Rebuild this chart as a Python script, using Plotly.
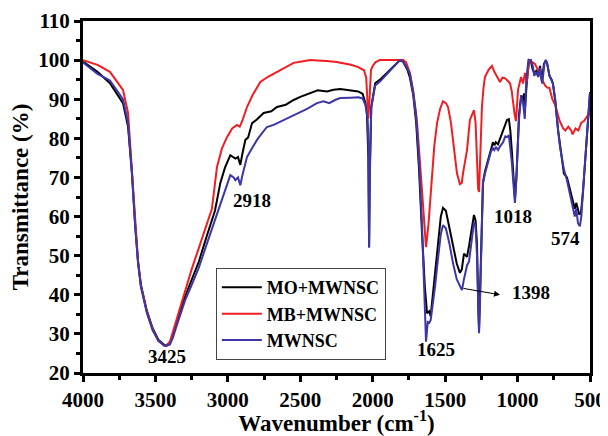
import plotly.graph_objects as go

# ---------------- data ----------------
wn_black = [4000, 3900, 3814, 3724, 3689, 3662, 3640, 3620, 3600, 3560, 3520, 3480, 3440, 3425,
            3400, 3380, 3350, 3296, 3250, 3200, 3150, 3089, 3052, 3020, 2983, 2960, 2948, 2930, 2914,
            2900, 2879, 2860, 2833, 2800, 2753, 2700, 2661, 2600, 2546, 2500, 2431, 2380, 2316, 2270,
            2224, 2150, 2100, 2070, 2050, 2040, 2030, 2025, 2020, 2010, 2000, 1983, 1950, 1900, 1850,
            1812, 1790, 1760, 1743, 1720, 1700, 1680, 1660, 1640, 1625, 1610, 1600, 1590, 1570, 1550,
            1530, 1515, 1495, 1470, 1446, 1420, 1398, 1385, 1370, 1349, 1335, 1320, 1301, 1290, 1280,
            1272, 1266, 1258, 1246, 1239, 1225, 1204, 1185, 1170, 1160, 1150, 1135, 1120, 1100, 1085,
            1073, 1060, 1050, 1040, 1030, 1018, 1008, 998, 990, 975, 962, 955, 948, 935, 920, 910,
            895, 880, 868, 858, 845, 832, 818, 805, 795, 780, 765, 756, 740, 720, 707, 690, 680, 659,
            640, 617, 605, 595, 585, 574, 562, 548, 530, 514, 500]
tr_black = [99.6, 97.0, 94.1, 89.0, 83.0, 71.0, 58.0, 48.5, 42.5, 36.0, 31.5, 28.5, 27.2, 27.0,
            27.8, 29.8, 33.5, 39.5, 43.8, 48.5, 54.5, 61.5, 68.6, 72.5, 75.7, 75.0, 74.8, 75.2, 73.2,
            76.0, 79.6, 80.2, 83.9, 84.8, 86.5, 86.9, 88.0, 88.6, 89.8, 90.6, 91.6, 92.3, 92.0, 92.4,
            92.6, 92.2, 92.0, 91.4, 89.0, 86.5, 75.0, 52.2, 72.0, 88.0, 90.5, 94.1, 95.0, 96.8, 98.6,
            100.0, 99.6, 97.5, 95.5, 91.0, 84.0, 72.0, 56.0, 42.0, 35.3, 35.8, 34.5, 38.0, 45.0, 53.0,
            60.0, 62.2, 61.5, 57.0, 52.2, 48.0, 45.6, 46.5, 50.5, 49.7, 52.5, 56.0, 60.4, 59.0, 53.0,
            38.0, 31.0, 42.0, 62.0, 68.6, 71.5, 74.5, 77.5, 79.0, 78.2, 79.0, 78.5, 80.0, 81.5, 83.5,
            84.7, 84.9, 82.0, 77.0, 71.0, 64.5, 70.0, 80.0, 86.0, 91.0, 89.5, 91.5, 88.0, 95.0, 100.0,
            100.0, 97.5, 96.5, 97.5, 95.8, 98.5, 94.5, 99.0, 100.0, 99.0, 96.0, 95.0, 94.0, 89.5, 82.0,
            78.5, 73.0, 71.0, 70.0, 67.0, 63.5, 62.0, 63.5, 62.0, 60.5, 61.0, 66.5, 76.0, 85.5, 91.8]

wn_red = [4000, 3900, 3814, 3724, 3689, 3662, 3640, 3620, 3600, 3560, 3520, 3480, 3440, 3425,
          3400, 3380, 3350, 3296, 3250, 3200, 3150, 3110, 3075, 3040, 3006, 2970, 2937, 2918, 2900,
          2868, 2830, 2776, 2720, 2661, 2600, 2546, 2480, 2431, 2380, 2316, 2250, 2200, 2150, 2100,
          2080, 2060, 2045, 2035, 2030, 2022, 2012, 2000, 1980, 1950, 1900, 1850, 1812, 1790, 1770,
          1743, 1720, 1694, 1675, 1660, 1645, 1632, 1615, 1591, 1575, 1556, 1535, 1515, 1495, 1480,
          1460, 1446, 1430, 1418, 1398, 1385, 1377, 1362, 1349, 1329, 1310, 1301, 1290, 1280, 1272,
          1266, 1256, 1246, 1235, 1225, 1200, 1177, 1160, 1140, 1121, 1105, 1087, 1070, 1052, 1040,
          1032, 1020, 1011, 1003, 997, 976, 962, 949, 935, 921, 900, 880, 866, 850, 830, 810, 797,
          780, 760, 740, 728, 710, 686, 670, 650, 630, 620, 600, 580, 560, 540, 520, 500]
tr_red = [100.0, 98.8, 97.0, 92.4, 86.5, 71.5, 58.5, 48.5, 42.3, 35.8, 31.2, 28.2, 27.0, 26.9,
          28.0, 30.5, 34.5, 41.2, 46.5, 52.0, 57.5, 62.0, 72.7, 77.5, 80.3, 82.5, 83.4, 83.0, 84.5,
          88.0, 91.0, 94.4, 95.8, 97.0, 98.4, 99.3, 99.7, 100.0, 99.9, 99.8, 99.5, 99.2, 98.8, 98.2,
          97.8, 97.4, 95.5, 90.0, 85.0, 90.0, 97.5, 98.5, 99.5, 100.0, 100.0, 100.0, 100.0, 100.0, 99.5,
          96.7, 91.5, 83.9, 74.5, 66.8, 57.0, 52.2, 58.0, 71.0, 78.0, 83.9, 87.5, 89.5, 89.0, 88.0,
          84.0, 79.6, 74.0, 71.0, 68.3, 68.6, 71.0, 74.0, 77.0, 84.7, 86.5, 87.2, 84.0, 72.7, 67.0,
          66.3, 78.0, 88.0, 93.0, 95.7, 97.5, 98.5, 97.0, 95.5, 94.4, 95.5, 95.4, 94.8, 94.1, 92.0,
          89.0, 86.0, 84.4, 88.0, 92.4, 95.7, 94.0, 96.7, 94.5, 100.0, 99.5, 99.0, 98.0, 96.5, 95.0,
          93.5, 93.0, 92.9, 90.0, 88.5, 86.7, 84.5, 82.6, 82.0, 83.0, 82.0, 81.0, 82.5, 82.0, 84.0,
          84.5, 85.5, 86.7]

wn_blue = [4000, 3900, 3814, 3724, 3689, 3662, 3640, 3620, 3600, 3560, 3520, 3480, 3440, 3425,
           3400, 3380, 3350, 3296, 3250, 3200, 3150, 3100, 3060, 3020, 2983, 2960, 2948, 2930, 2914,
           2900, 2868, 2840, 2799, 2760, 2730, 2680, 2615, 2560, 2500, 2450, 2385, 2340, 2300, 2260,
           2224, 2150, 2100, 2070, 2050, 2040, 2035, 2030, 2025, 2020, 2010, 2000, 1983, 1950, 1900,
           1850, 1812, 1795, 1770, 1743, 1720, 1700, 1680, 1660, 1645, 1632, 1620, 1610, 1600, 1590,
           1570, 1550, 1530, 1515, 1495, 1470, 1446, 1420, 1398, 1384, 1370, 1349, 1335, 1320, 1301,
           1290, 1280, 1272, 1266, 1258, 1246, 1239, 1225, 1204, 1185, 1170, 1160, 1150, 1135, 1120,
           1100, 1085, 1073, 1060, 1050, 1040, 1030, 1018, 1008, 998, 990, 975, 962, 950, 940, 925,
           910, 895, 885, 870, 858, 845, 830, 815, 805, 795, 780, 756, 740, 720, 707, 680, 659, 640,
           617, 605, 595, 583, 570, 560, 548, 530, 514, 500]
tr_blue = [99.4, 96.5, 94.8, 90.0, 84.0, 71.0, 57.5, 48.0, 42.0, 35.5, 31.0, 28.3, 27.0, 26.9,
           27.3, 29.0, 32.5, 38.5, 42.5, 47.0, 52.5, 58.0, 62.0, 67.0, 70.6, 70.0, 69.3, 70.0, 68.0,
           70.5, 75.2, 77.0, 79.6, 81.5, 82.9, 83.5, 84.7, 85.8, 86.7, 87.6, 89.0, 89.5, 89.0, 89.8,
           90.3, 90.4, 90.5, 90.2, 88.5, 86.0, 84.7, 78.0, 52.0, 70.0, 88.0, 90.0, 93.5, 94.5, 96.5,
           98.3, 100.0, 99.8, 98.5, 96.5, 92.0, 86.0, 74.0, 58.0, 42.0, 28.0, 33.0, 32.8, 33.5, 36.0,
           42.0, 49.0, 55.5, 57.8, 57.0, 53.0, 48.1, 44.0, 42.0, 41.2, 44.0, 47.5, 48.5, 53.0, 58.6,
           57.5, 50.0, 38.0, 30.2, 40.0, 60.0, 68.6, 71.0, 74.0, 76.5, 77.5, 77.0, 77.8, 77.0, 78.0,
           79.0, 80.5, 80.3, 80.8, 78.0, 74.0, 69.0, 63.5, 70.0, 80.0, 85.0, 91.0, 89.0, 85.0, 95.0, 100.0,
           100.0, 98.5, 96.0, 97.0, 95.7, 98.0, 94.0, 99.0, 100.0, 99.0, 96.0, 94.0, 90.0, 82.0, 77.8,
           72.0, 69.3, 66.0, 62.4, 60.0, 62.0, 58.3, 57.5, 60.0, 66.8, 76.0, 85.5, 91.6]

series_names = ["MO+MWNSC", "MB+MWNSC", "MWNSC"]
x_ticks = [4000, 3500, 3000, 2500, 2000, 1500, 1000, 500]
y_ticks = [20, 30, 40, 50, 60, 70, 80, 90, 100, 110]

peak_labels = ["3425", "2918", "1625", "1398", "1018", "574"]
peak_x = [3420, 2833, 1563, 907, 1032, 666]
peak_y = [24.1, 64.2, 25.9, 40.7, 59.9, 54.5]

# ---------------- figure ----------------
FONT = "Liberation Serif, 'Times New Roman', serif"
fig = go.Figure()
for name, xs, ys, col in [(series_names[0], wn_black, tr_black, "#000000"),
                          (series_names[1], wn_red, tr_red, "#f01e23"),
                          (series_names[2], wn_blue, tr_blue, "#3b37a8")]:
    fig.add_trace(go.Scatter(x=xs, y=ys, mode="lines", name="<b>" + name + "</b>",
                             line=dict(color=col, width=2)))

for t, xv, yv in zip(peak_labels, peak_x, peak_y):
    fig.add_annotation(x=xv, y=yv, text="<b>" + t + "</b>", showarrow=False,
                       font=dict(family=FONT, size=19, color="black"))

# arrow pointing to the 1398 label
fig.add_annotation(x=1121, y=40.0, ax=1384, ay=41.7, xref="x", yref="y",
                   axref="x", ayref="y", text="", showarrow=True,
                   arrowhead=2, arrowsize=1.2, arrowwidth=1, arrowcolor="black")

axis_common = dict(showline=True, linewidth=3, linecolor="black", mirror=True,
                   ticks="outside", ticklen=6, tickwidth=2.5, tickcolor="black",
                   showgrid=False, zeroline=False, automargin=False,
                   tickfont=dict(family=FONT, size=21, color="black"))

fig.update_xaxes(range=[4000, 500], tickvals=x_ticks,
                 ticktext=["<b>%d</b>" % v for v in x_ticks],
                 minor=dict(dtick=250, tick0=500, ticks="outside", ticklen=4,
                            tickwidth=2.5, tickcolor="black"),
                 title=dict(text="<b>Wavenumber (cm<sup>-1</sup>)</b>", standoff=2,
                            font=dict(family=FONT, size=23, color="black")),
                 **axis_common)
fig.update_yaxes(range=[20, 110], tickvals=y_ticks,
                 ticktext=["<b>%d</b>" % v for v in y_ticks],
                 minor=dict(dtick=5, tick0=20, ticks="outside", ticklen=4,
                            tickwidth=2.5, tickcolor="black"),
                 title=dict(text="<b>Transmittance (%)</b>", standoff=4,
                            font=dict(family=FONT, size=23, color="black")),
                 **axis_common)

# the page shows the figure offset by the default 8px body margin,
# so the figure is 600x428 and its margins are shifted accordingly
fig.update_layout(
    width=600, height=428,
    margin=dict(l=75, r=18, t=13, b=63, autoexpand=False),
    paper_bgcolor="white", plot_bgcolor="white",
    showlegend=True,
    legend=dict(x=0.262, y=0.298, xanchor="left", yanchor="top",
                bgcolor="white", bordercolor="#444", borderwidth=1,
                font=dict(family=FONT, size=18, color="black"),
                tracegroupgap=0, itemwidth=40),
)

fig.write_html("out.html")
